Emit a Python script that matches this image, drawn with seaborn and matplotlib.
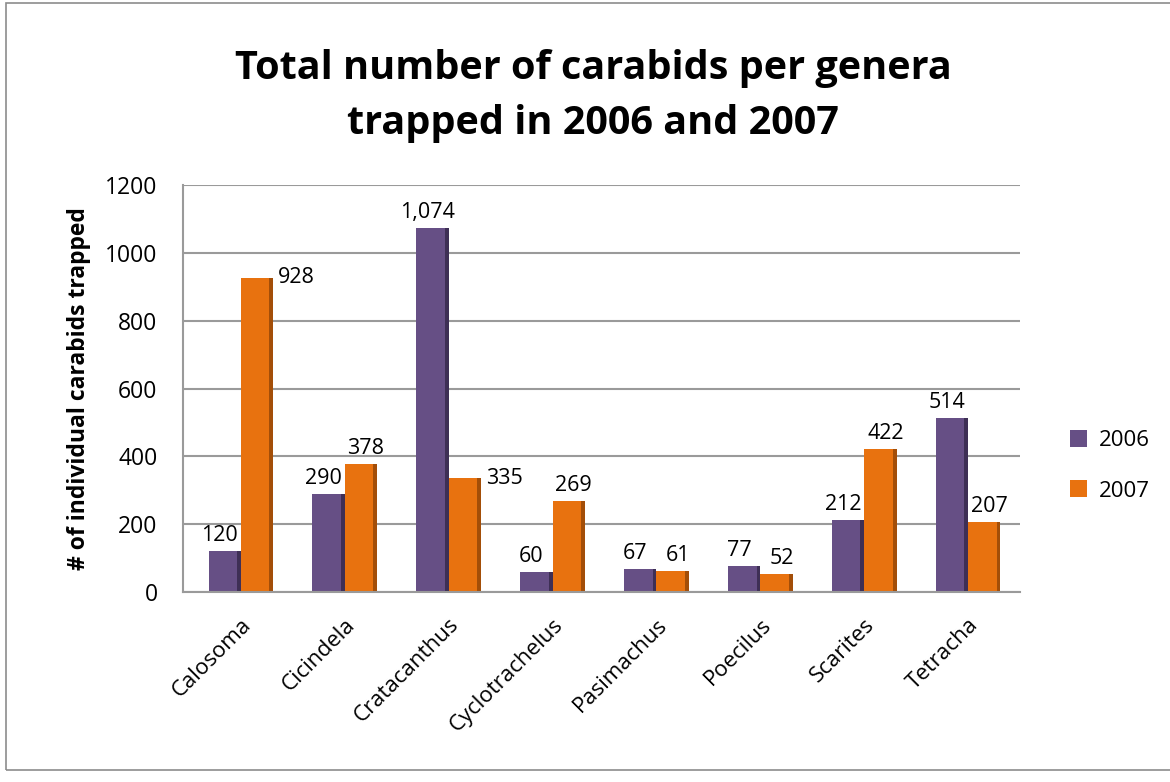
import numpy as np
import pandas as pd
import matplotlib
matplotlib.use("Agg")
import matplotlib.pyplot as plt
import seaborn as sns
from matplotlib.patches import Rectangle

# === Data ===
genera = ["Calosoma", "Cicindela", "Cratacanthus", "Cyclotrachelus",
          "Pasimachus", "Poecilus", "Scarites", "Tetracha"]
counts_2006 = [120, 290, 1074, 60, 67, 77, 212, 514]
counts_2007 = [928, 378, 335, 269, 61, 52, 422, 207]
years = ["2006", "2007"]

df = pd.DataFrame({
    "genus": genera * 2,
    "year": [years[0]] * len(genera) + [years[1]] * len(genera),
    "count": counts_2006 + counts_2007,
})

colors = {"2006": "#664F85", "2007": "#E8720F"}
side_colors = {"2006": "#3E2F55", "2007": "#A34E08"}

sns.set_theme(style="white")
plt.rcParams["font.family"] = ["Open Sans", "DejaVu Sans"]
plt.rcParams["text.color"] = "black"
plt.rcParams["xtick.color"] = "black"
plt.rcParams["ytick.color"] = "black"
plt.rcParams["axes.labelcolor"] = "black"

fig = plt.figure(figsize=(11.7, 7.82), dpi=100)
ax = fig.add_axes([0.156, 0.243, 0.716, 0.52])

sns.barplot(data=df, x="genus", y="count", hue="year", palette=colors,
            width=0.62, saturation=1, linewidth=0, ax=ax, legend=True)

# === fake 3d side shading on each bar ===
for cont, yr in zip(ax.containers, years):
    for bar in cont:
        x0, w, h = bar.get_x(), bar.get_width(), bar.get_height()
        ax.add_patch(Rectangle((x0 + w * 0.88, 0), w * 0.12, h,
                               color=side_colors[yr], lw=0, zorder=bar.get_zorder() + 0.1))

# === value labels ===
for cont, yr in zip(ax.containers, years):
    for bar in cont:
        v = bar.get_height()
        cx = bar.get_x() + bar.get_width() / 2
        txt = f"{int(v):,}"
        if yr == "2007" and v in (928, 335):
            ax.text(bar.get_x() + bar.get_width() * 1.15, v, txt, ha="left", va="center",
                    fontsize=15.5)
        elif yr == "2006":
            ax.text(cx - 0.05, v + 15, txt, ha="center", va="bottom", fontsize=15.5)
        else:
            ax.text(cx + 0.05, v + 15, txt, ha="center", va="bottom", fontsize=15.5)

ax.set_ylim(0, 1200)
ax.set_xlim(-0.56, 7.5)
ax.set_yticks(range(0, 1201, 200))
ax.yaxis.grid(True, color="#9A9A9A", lw=1.5)
ax.set_axisbelow(True)
for s in ["top", "right"]:
    ax.spines[s].set_visible(False)
for s in ["left", "bottom"]:
    ax.spines[s].set_color("#9A9A9A")
    ax.spines[s].set_linewidth(1.5)

ax.tick_params(axis="y", labelsize=16.5, pad=18, length=0)
ax.tick_params(axis="x", labelsize=16, length=0, pad=16)
plt.setp(ax.get_xticklabels(), rotation=45, ha="right", rotation_mode="anchor")
ax.set_xlabel("")
ax.set_ylabel("# of individual carabids trapped", fontsize=16.5, fontweight="bold", labelpad=10)

fig.text(0.507, 0.877, "Total number of carabids per genera\ntrapped in 2006 and 2007",
         ha="center", va="center", fontsize=28.5, fontweight="bold", linespacing=1.55)

leg = ax.legend(loc="center left", bbox_to_anchor=(1.035, 0.31), frameon=False,
                fontsize=16, handlelength=0.8, handleheight=0.8, labelspacing=1.3,
                handletextpad=0.5)

# chart area border
fig.patches.append(Rectangle((0.005, 0.015), 1.2, 0.981, transform=fig.transFigure,
                             fill=False, ec="#8C8C8C", lw=1.2))

fig.savefig("out.png", dpi=100)
